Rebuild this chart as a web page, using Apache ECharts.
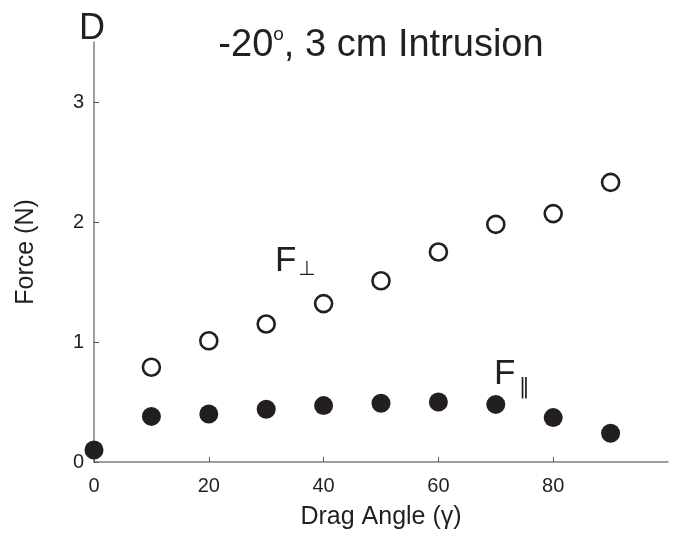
<!DOCTYPE html>
<html><head><meta charset="utf-8">
<script src="https://cdn.jsdelivr.net/npm/echarts@6/dist/echarts.min.js"></script>
<style>html,body{margin:0;padding:0;background:#fff}#c{width:673px;height:533px}</style>
</head><body><div id="c"></div>
<script>
const angles = [0, 10, 20, 30, 40, 50, 60, 70, 80, 90];
const fPerp = [null, 0.79, 1.01, 1.15, 1.32, 1.51, 1.75, 1.98, 2.07, 2.33];
const fPar = [0.10, 0.38, 0.40, 0.44, 0.47, 0.49, 0.50, 0.48, 0.37, 0.24];
const xTicks = [0, 20, 40, 60, 80];
const yTicks = [0, 1, 2, 3];

const FONT = 'Liberation Sans, Arial, Helvetica, sans-serif';
const INK = '#231f20';
const chart = echarts.init(document.getElementById('c'), null, {renderer: 'canvas'});
const perpData = angles.map((a, i) => [a, fPerp[i]]).filter(d => d[1] != null);
const parData = angles.map((a, i) => [a, fPar[i]]);

chart.setOption({
  animation: false,
  backgroundColor: '#fff',
  textStyle: {fontFamily: FONT},
  grid: {left: 94, right: 5, top: 42, bottom: 71, containLabel: false, outerBoundsMode: 'none'},
  xAxis: {
    type: 'value', min: 0, max: 100, interval: 20,
    name: 'Drag Angle (\u03b3)', nameLocation: 'middle', nameGap: 43,
    nameTextStyle: {fontSize: 25, color: INK, fontFamily: FONT},
    axisLine: {lineStyle: {color: '#7f7f7f', width: 1.5}},
    axisTick: {inside: true, length: 5, lineStyle: {color: '#555', width: 1}, customValues: xTicks},
    axisLabel: {fontSize: 20, color: INK, margin: 14, customValues: xTicks, fontFamily: FONT},
    splitLine: {show: false}
  },
  yAxis: {
    type: 'value', min: 0, max: 3.5, interval: 1,
    name: 'Force (N)', nameLocation: 'middle', nameGap: 55, nameRotate: 90,
    nameTextStyle: {fontSize: 25, color: INK, fontFamily: FONT},
    axisLine: {show: true, lineStyle: {color: '#7f7f7f', width: 1.5}},
    axisTick: {show: true, inside: true, length: 5, lineStyle: {color: '#555', width: 1}, customValues: yTicks},
    axisLabel: {fontSize: 20, color: INK, margin: 10, customValues: yTicks, fontFamily: FONT},
    splitLine: {show: false}
  },
  series: [
    {
      type: 'scatter', data: perpData, symbol: 'circle', symbolSize: 17, clip: false,
      itemStyle: {color: '#fff', borderColor: INK, borderWidth: 2.6, opacity: 1}
    },
    {
      type: 'scatter', data: parData, symbol: 'circle', symbolSize: 19, clip: false,
      itemStyle: {color: INK, opacity: 1}
    }
  ],
  graphic: [
    {type: 'text', position: [79, 11], z: 10,
      style: {text: 'D', fontSize: 36, fill: INK, fontFamily: FONT}},
    {type: 'text', position: [381, 46], z: 10,
      style: {
        text: '{t|-20}{s|o}{t|, 3 cm Intrusion}',
        align: 'center', verticalAlign: 'middle',
        rich: {
          t: {fontSize: 38, fill: INK, fontFamily: FONT},
          s: {fontSize: 19, fill: INK, fontFamily: FONT, verticalAlign: 'top', padding: [0, 0, 22, 0]}
        }
      }},
    {type: 'text', position: [275, 244], z: 10,
      style: {text: 'F', fontSize: 35, fill: INK, fontFamily: FONT}},
    {type: 'text', position: [298, 260], z: 10,
      style: {text: '\u22a5', fontSize: 20, fill: INK, fontFamily: 'DejaVu Sans'}},
    {type: 'text', position: [494, 357], z: 10,
      style: {text: 'F', fontSize: 35, fill: INK, fontFamily: FONT}},
    {type: 'text', position: [519, 377], z: 10,
      style: {text: '\u2016', fontSize: 21, fill: INK, fontFamily: 'DejaVu Sans'}}
  ]
});
</script></body></html>
